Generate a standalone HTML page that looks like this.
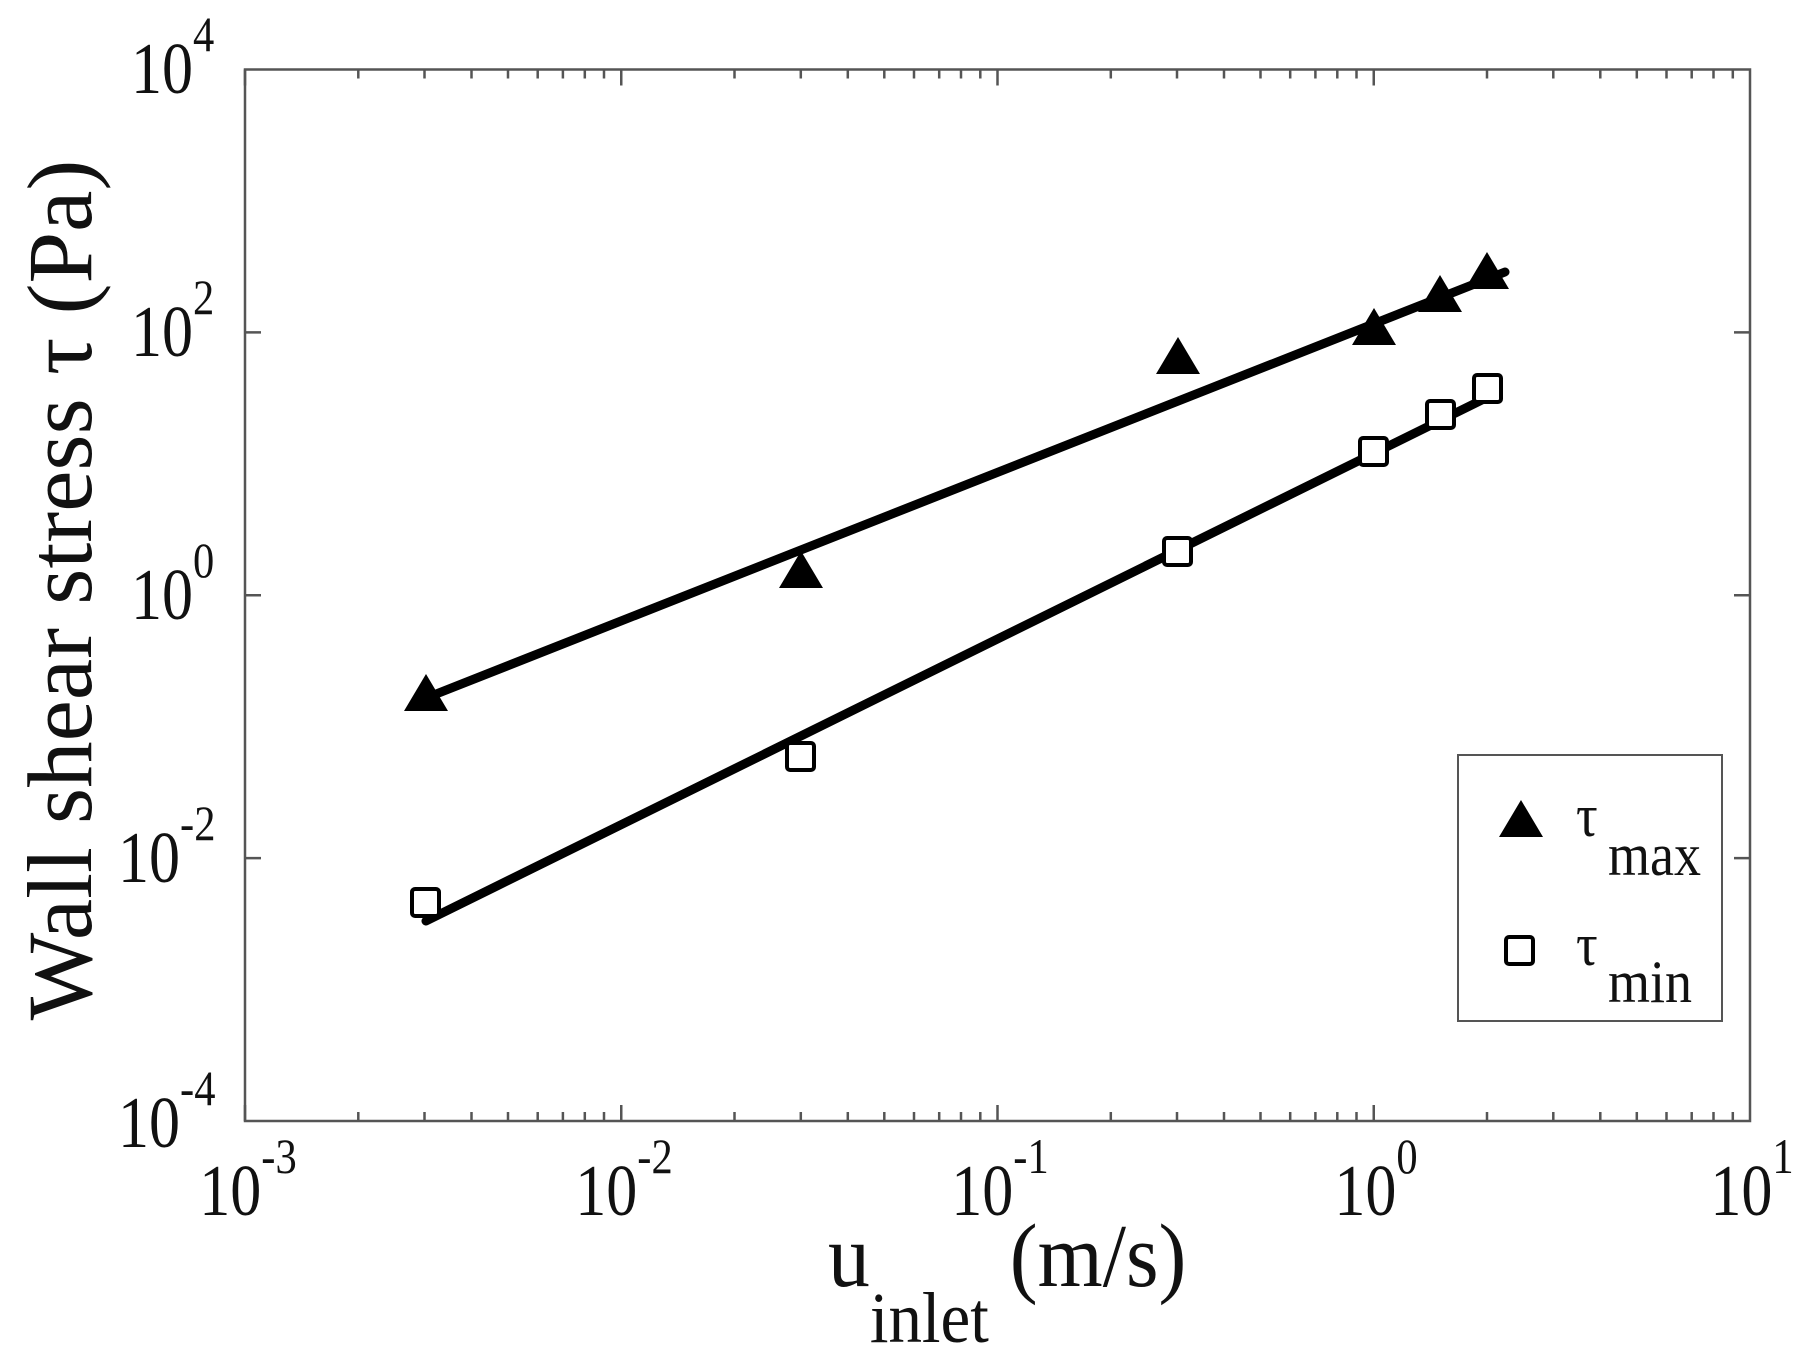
<!DOCTYPE html>
<html><head><style>body{margin:0;background:#fff}</style></head><body>
<svg width="1810" height="1364" xmlns="http://www.w3.org/2000/svg" font-family="Liberation Serif, serif">
<rect width="1810" height="1364" fill="#fff"/>
<g stroke="#555" stroke-width="2.5" fill="none">
<path d="M245,1121v-16M358.3,1121v-9M424.5,1121v-9M471.5,1121v-9M508,1121v-9M537.7,1121v-9M562.9,1121v-9M584.8,1121v-9M604,1121v-9
M621.25,1121v-16M734.5,1121v-9M800.8,1121v-9M847.8,1121v-9M884.3,1121v-9M914,1121v-9M939.2,1121v-9M961,1121v-9M980.3,1121v-9
M997.5,1121v-16M1110.8,1121v-9M1177,1121v-9M1224,1121v-9M1260.5,1121v-9M1290.2,1121v-9M1315.4,1121v-9M1337.3,1121v-9M1356.5,1121v-9
M1373.75,1121v-16M1487,1121v-9M1553.3,1121v-9M1600.3,1121v-9M1636.8,1121v-9M1666.5,1121v-9M1691.7,1121v-9M1713.5,1121v-9M1732.8,1121v-9
M245,69.5v16M358.3,69.5v9M424.5,69.5v9M471.5,69.5v9M508,69.5v9M537.7,69.5v9M562.9,69.5v9M584.8,69.5v9M604,69.5v9
M621.25,69.5v16M734.5,69.5v9M800.8,69.5v9M847.8,69.5v9M884.3,69.5v9M914,69.5v9M939.2,69.5v9M961,69.5v9M980.3,69.5v9
M997.5,69.5v16M1110.8,69.5v9M1177,69.5v9M1224,69.5v9M1260.5,69.5v9M1290.2,69.5v9M1315.4,69.5v9M1337.3,69.5v9M1356.5,69.5v9
M1373.75,69.5v16M1487,69.5v9M1553.3,69.5v9M1600.3,69.5v9M1636.8,69.5v9M1666.5,69.5v9M1691.7,69.5v9M1713.5,69.5v9M1732.8,69.5v9
M245,332.4h16M245,595.3h16M245,858.1h16M1750,332.4h-16M1750,595.3h-16M1750,858.1h-16"/>
<rect x="245" y="69.5" width="1505" height="1051.5"/>
</g>
<g font-size="73" fill="#111">
<text transform="translate(131,93) scale(0.85,1)">10<tspan font-size="50" dy="-42">4</tspan></text>
<text transform="translate(131,356) scale(0.85,1)">10<tspan font-size="50" dy="-42">2</tspan></text>
<text transform="translate(131,619) scale(0.85,1)">10<tspan font-size="50" dy="-42">0</tspan></text>
<text transform="translate(118,882) scale(0.85,1)">10<tspan font-size="50" dy="-42">-2</tspan></text>
<text transform="translate(118,1147) scale(0.85,1)">10<tspan font-size="50" dy="-42">-4</tspan></text>
</g>
<g font-size="73" fill="#111" text-anchor="middle">
<text transform="translate(248,1215) scale(0.85,1)">10<tspan font-size="50" dy="-42">-3</tspan></text>
<text transform="translate(624,1215) scale(0.85,1)">10<tspan font-size="50" dy="-42">-2</tspan></text>
<text transform="translate(1000,1215) scale(0.85,1)">10<tspan font-size="50" dy="-42">-1</tspan></text>
<text transform="translate(1376,1215) scale(0.85,1)">10<tspan font-size="50" dy="-42">0</tspan></text>
<text transform="translate(1752,1215) scale(0.85,1)">10<tspan font-size="50" dy="-42">1</tspan></text>
</g>
<text transform="translate(828,1286) scale(0.93,1)" font-size="90" fill="#111">u<tspan font-size="72" dy="56">inlet</tspan><tspan dy="-56"> (m/s)</tspan></text>
<text transform="translate(91,590) rotate(-90) scale(1.01,1)" font-size="92" fill="#111" text-anchor="middle">Wall shear stress τ  (Pa)</text>
<g stroke="#000" stroke-width="9" stroke-linecap="round">
<line x1="426" y1="698" x2="1505" y2="272"/>
<line x1="426" y1="921" x2="1494" y2="394"/>
</g>
<g fill="#000">
<path d="M426,674 l22,37 h-44z"/><path d="M801,551 l22,37 h-44z"/><path d="M1178,337 l22,37 h-44z"/>
<path d="M1374,308 l22,37 h-44z"/><path d="M1440,275 l22,37 h-44z"/><path d="M1487,252 l22,37 h-44z"/>
</g>
<g fill="#fff" stroke="#000" stroke-width="4">
<rect x="412" y="889" width="27" height="27" rx="3"/><rect x="787" y="743" width="27" height="27" rx="3"/>
<rect x="1164" y="538" width="27" height="27" rx="3"/><rect x="1360" y="438" width="27" height="27" rx="3"/>
<rect x="1427" y="401" width="27" height="27" rx="3"/><rect x="1474" y="375" width="27" height="27" rx="3"/>
</g>
<rect x="1458" y="755" width="264" height="266" fill="#fff" stroke="#555" stroke-width="2"/>
<path d="M1521,800 l22,37 h-44z" fill="#000"/>
<rect x="1506" y="937" width="27" height="27" rx="3" fill="#fff" stroke="#000" stroke-width="4"/>
<g font-size="60" fill="#111">
<text transform="translate(1576,836) scale(0.9,1)">τ</text>
<text transform="translate(1608,875) scale(0.9,1)">max</text>
<text transform="translate(1576,965) scale(0.9,1)">τ</text>
<text transform="translate(1608,1002) scale(0.9,1)">min</text>
</g>
</svg>
</body></html>
